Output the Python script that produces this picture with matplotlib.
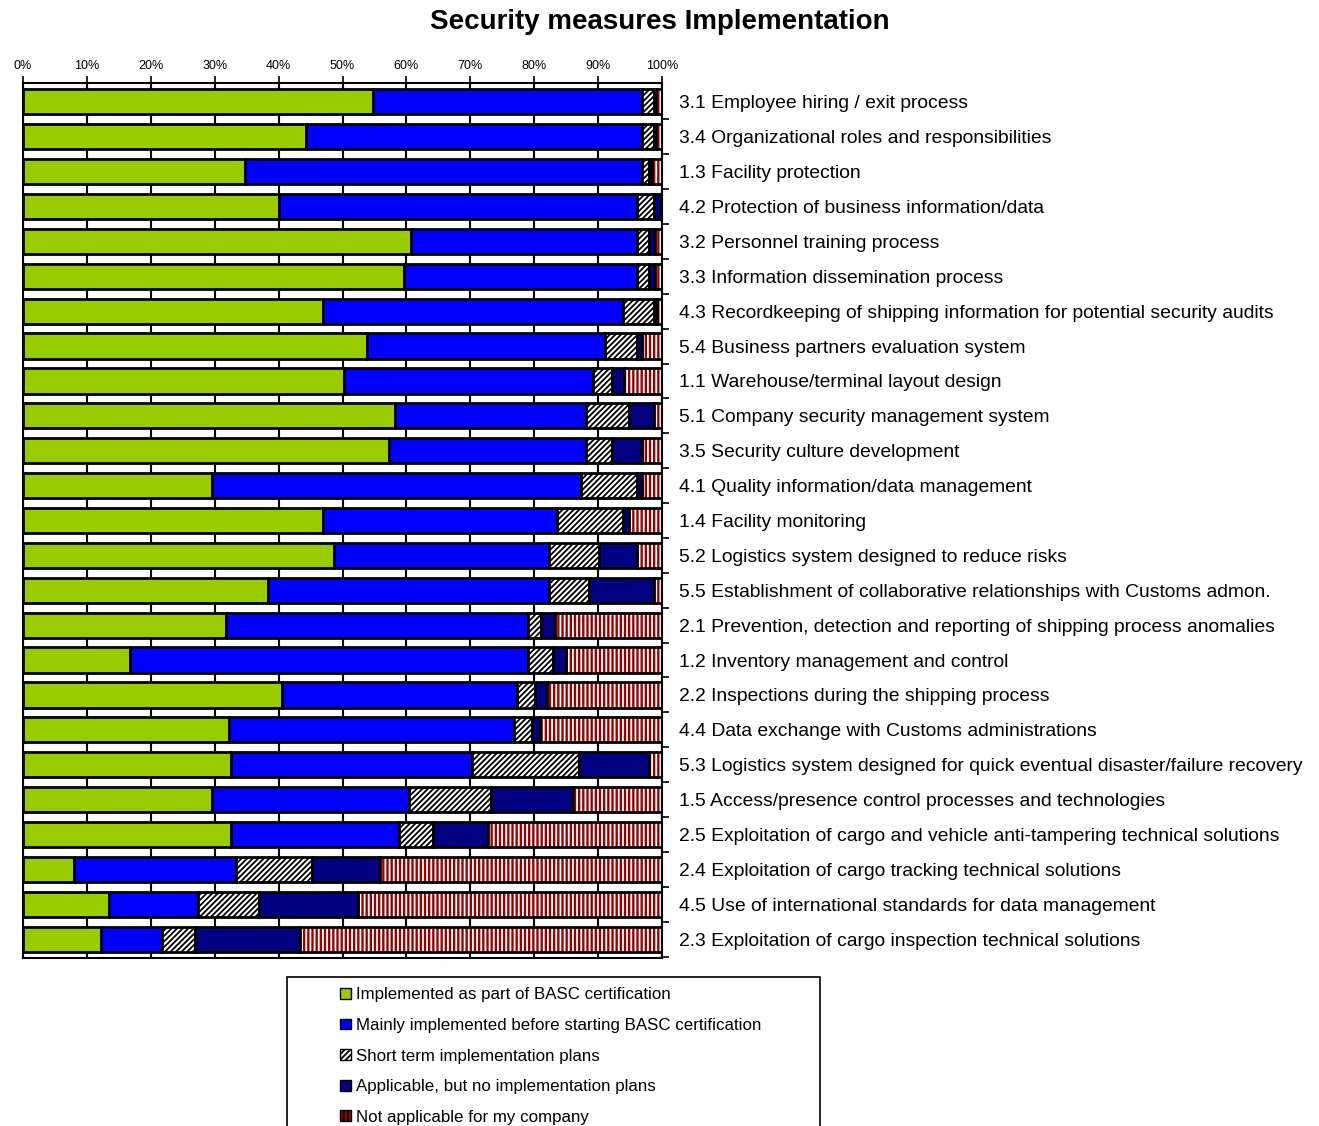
import numpy as np
import matplotlib
matplotlib.use("Agg")
import matplotlib.pyplot as plt
from matplotlib.patches import Patch, Rectangle

plt.rcParams['font.family'] = ['Liberation Sans', 'DejaVu Sans']
plt.rcParams['hatch.linewidth'] = 1.3

categories = [
    "3.1 Employee hiring / exit process",
    "3.4 Organizational roles and responsibilities",
    "1.3 Facility protection",
    "4.2 Protection of business information/data",
    "3.2 Personnel training process",
    "3.3 Information dissemination process",
    "4.3 Recordkeeping of shipping information for potential security audits",
    "5.4 Business partners evaluation system",
    "1.1 Warehouse/terminal layout design",
    "5.1 Company security management system",
    "3.5 Security culture development",
    "4.1 Quality information/data management",
    "1.4 Facility monitoring",
    "5.2 Logistics system designed to reduce risks",
    "5.5 Establishment of collaborative relationships with Customs admon.",
    "2.1 Prevention, detection and reporting of shipping process anomalies",
    "1.2 Inventory management and control",
    "2.2 Inspections during the shipping process",
    "4.4 Data exchange with Customs administrations",
    "5.3 Logistics system designed for quick eventual disaster/failure recovery",
    "1.5 Access/presence control processes and technologies",
    "2.5 Exploitation of cargo and vehicle anti-tampering technical solutions",
    "2.4 Exploitation of cargo tracking technical solutions",
    "4.5 Use of international standards for data management",
    "2.3 Exploitation of cargo inspection technical solutions",
]

implemented_basc = [54.7, 44.3, 34.8, 40.0, 60.7, 59.7, 46.9, 53.8, 50.3, 58.2, 57.3, 29.6, 46.9,
                    48.7, 38.4, 31.8, 16.8, 40.5, 32.2, 32.5, 29.6, 32.5, 8.0, 13.4, 12.2]
implemented_before = [42.2, 52.6, 62.1, 56.1, 35.4, 36.4, 47.0, 37.3, 38.9, 29.9, 30.8, 57.7, 36.7,
                      33.6, 43.9, 47.2, 62.2, 36.8, 44.6, 37.7, 30.8, 26.3, 25.4, 14.0, 9.5]
short_term = [1.9, 1.9, 1.0, 2.7, 1.9, 1.9, 4.9, 5.0, 2.9, 6.7, 4.0, 8.8, 10.3,
              7.9, 6.2, 2.1, 3.9, 2.9, 2.9, 16.8, 12.9, 5.3, 11.8, 9.5, 5.2]
no_plans = [0.3, 0.3, 0.5, 1.0, 0.9, 0.9, 0.4, 0.8, 2.0, 4.0, 4.8, 0.8, 0.9,
            5.9, 10.3, 2.1, 2.0, 1.8, 1.2, 11.0, 12.8, 8.6, 10.7, 15.6, 16.4]
not_applicable = [0.9, 0.9, 1.6, 0.2, 1.1, 1.1, 0.8, 3.1, 5.9, 1.2, 3.1, 3.1, 5.2,
                  3.9, 1.2, 16.8, 15.1, 18.0, 19.1, 2.0, 13.9, 27.3, 44.1, 47.5, 56.7]

series_labels = [
    "Implemented as part of BASC certification",
    "Mainly implemented before starting BASC certification",
    "Short term implementation plans",
    "Applicable, but no implementation plans",
    "Not applicable for my company",
]

# (face, hatch, hatch colour)
styles = [
    ("#99CC00", None, None),
    ("#0000FF", None, None),
    ("white", "//////", "black"),
    ("#000080", None, None),
    ("#990000", "||||", "white"),
]

W, H = 1319, 1126
fig = plt.figure(figsize=(W / 100, H / 100), dpi=100)
ax = fig.add_axes([23 / W, 1 - 958 / H, (662 - 23) / W, (958 - 83) / H])

y = np.arange(len(categories))
series = [implemented_basc, implemented_before, short_term, no_plans, not_applicable]
left = np.zeros(len(categories))
bar_h = 0.72
for vals, (face, hatch, hcol) in zip(series, styles):
    vals = np.array(vals)
    if hatch:
        # hatch colour follows edgecolor, so fill first and outline on top
        ax.barh(y, vals, left=left, height=bar_h, color=face, edgecolor=hcol,
                hatch=hatch, linewidth=0, zorder=2)
        ax.barh(y, vals, left=left, height=bar_h, fill=False, edgecolor="black",
                linewidth=2, zorder=3)
    else:
        ax.barh(y, vals, left=left, height=bar_h, color=face, edgecolor="black",
                linewidth=2, zorder=2)
    left += vals

ax.set_xlim(0, 100)
ax.set_ylim(len(categories) - 0.46, -0.54)
ax.set_xticks(np.arange(0, 101, 10))
ax.set_xticklabels([f"{v}%" for v in range(0, 101, 10)], fontsize=9)
ax.xaxis.tick_top()
ax.tick_params(axis="x", direction="out", length=5, width=1.2, pad=3)
ax.grid(axis="x", color="black", linewidth=1.5, zorder=0)
ax.set_axisbelow(True)

ax.yaxis.tick_right()
ax.set_yticks(y)
ax.set_yticklabels(categories, fontsize=13.9)
ax.set_yticks(np.arange(len(categories)) + 0.5, minor=True)
ax.tick_params(axis="y", which="major", length=0, pad=12)
ax.tick_params(axis="y", which="minor", direction="out", length=5, width=1.2)
for s in ax.spines.values():
    s.set_linewidth(1.5)

fig.text(0.5, 1 - 22 / H, "Security measures Implementation", ha="center", va="center",
         fontsize=20, fontweight="bold")

# legend box, runs off the bottom of the figure like the original
fig.patches.append(Rectangle((287 / W, -0.02), (820 - 287) / W, 0.02 + 1 - 977 / H,
                             transform=fig.transFigure, fill=False, edgecolor="black",
                             linewidth=1.2))
handles = []
for face, hatch, hcol in styles:
    handles.append(Patch(facecolor=face, edgecolor="black", hatch=hatch, linewidth=1))
fig.legend(handles, series_labels, loc="upper left", bbox_to_anchor=(332 / W, 1 - 979 / H),
           frameon=False, fontsize=12.2, handlelength=0.6, handleheight=0.6,
           handletextpad=0.3, labelspacing=0.92, borderpad=0)

fig.savefig("out.png", dpi=100)
